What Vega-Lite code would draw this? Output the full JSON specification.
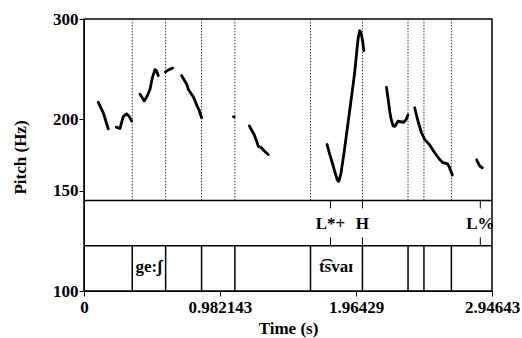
{
  "$schema": "https://vega.github.io/schema/vega-lite/v6.json",
  "width": 408,
  "height": 272,
  "autosize": {"type": "none"},
  "padding": {"left": 84, "top": 19, "right": 30, "bottom": 47},
  "background": "white",
  "config": {
    "font": "Liberation Serif",
    "view": {"stroke": "black", "strokeWidth": 1.5},
    "axis": {
      "grid": false,
      "labelFont": "Liberation Serif",
      "titleFont": "Liberation Serif",
      "labelFontSize": 17,
      "titleFontSize": 17,
      "labelFontWeight": "bold",
      "titleFontWeight": "bold",
      "labelColor": "black",
      "titleColor": "black",
      "tickColor": "black",
      "domainColor": "black",
      "tickSize": 5,
      "labelOverlap": false,
      "labelFlush": false
    }
  },
  "datasets": {
    "pitch": [
      {"s": 1, "t": 0.1032, "f": 214.3},
      {"s": 1, "t": 0.1392, "f": 205.4},
      {"s": 1, "t": 0.1753, "f": 192.5},
      {"s": 2, "t": 0.233, "f": 193.8},
      {"s": 2, "t": 0.2597, "f": 192.8},
      {"s": 2, "t": 0.2835, "f": 202.3},
      {"s": 2, "t": 0.3066, "f": 204.5},
      {"s": 2, "t": 0.3247, "f": 202.7},
      {"s": 2, "t": 0.3442, "f": 198.7},
      {"s": 3, "t": 0.404, "f": 221.5},
      {"s": 3, "t": 0.4351, "f": 215.5},
      {"s": 3, "t": 0.4545, "f": 219.3},
      {"s": 3, "t": 0.4762, "f": 225.6},
      {"s": 3, "t": 0.4942, "f": 236.8},
      {"s": 3, "t": 0.5123, "f": 244.5},
      {"s": 3, "t": 0.5231, "f": 243.5},
      {"s": 3, "t": 0.5361, "f": 238.7},
      {"s": 4, "t": 0.588, "f": 242.3},
      {"s": 4, "t": 0.6133, "f": 244.5},
      {"s": 4, "t": 0.64, "f": 246.2},
      {"s": 5, "t": 0.7049, "f": 238.7},
      {"s": 5, "t": 0.7215, "f": 234.9},
      {"s": 5, "t": 0.741, "f": 230.7},
      {"s": 5, "t": 0.754, "f": 225.6},
      {"s": 5, "t": 0.7684, "f": 222.9},
      {"s": 5, "t": 0.7886, "f": 219.3},
      {"s": 5, "t": 0.8009, "f": 215.8},
      {"s": 5, "t": 0.8153, "f": 211.5},
      {"s": 5, "t": 0.8297, "f": 208.1},
      {"s": 5, "t": 0.8492, "f": 201.3},
      {"s": 6, "t": 1.0795, "f": 202.1},
      {"s": 6, "t": 1.0845, "f": 202.1},
      {"s": 7, "t": 1.1941, "f": 194.8},
      {"s": 7, "t": 1.2121, "f": 191.2},
      {"s": 7, "t": 1.2287, "f": 188.2},
      {"s": 7, "t": 1.2446, "f": 183.7},
      {"s": 7, "t": 1.2576, "f": 179.5},
      {"s": 7, "t": 1.2807, "f": 178.3},
      {"s": 7, "t": 1.2987, "f": 176.4},
      {"s": 7, "t": 1.3297, "f": 173.6},
      {"s": 8, "t": 1.7554, "f": 180.7},
      {"s": 8, "t": 1.7749, "f": 173.6},
      {"s": 8, "t": 1.7965, "f": 166.7},
      {"s": 8, "t": 1.8146, "f": 160.8},
      {"s": 8, "t": 1.829, "f": 156.6},
      {"s": 8, "t": 1.8398, "f": 155.7},
      {"s": 8, "t": 1.8543, "f": 160.1},
      {"s": 8, "t": 1.8687, "f": 168.8},
      {"s": 8, "t": 1.8831, "f": 178.5},
      {"s": 8, "t": 1.8975, "f": 189.7},
      {"s": 8, "t": 1.912, "f": 201.5},
      {"s": 8, "t": 1.9264, "f": 214.1},
      {"s": 8, "t": 1.9408, "f": 227.4},
      {"s": 8, "t": 1.9553, "f": 242.6},
      {"s": 8, "t": 1.9697, "f": 263.0},
      {"s": 8, "t": 1.9805, "f": 278.2},
      {"s": 8, "t": 1.9913, "f": 286.2},
      {"s": 8, "t": 2.0022, "f": 282.7},
      {"s": 8, "t": 2.013, "f": 273.8},
      {"s": 8, "t": 2.0202, "f": 264.0},
      {"s": 9, "t": 2.184, "f": 227.7},
      {"s": 9, "t": 2.197, "f": 216.7},
      {"s": 9, "t": 2.2078, "f": 206.7},
      {"s": 9, "t": 2.2186, "f": 199.9},
      {"s": 9, "t": 2.2331, "f": 194.7},
      {"s": 9, "t": 2.2439, "f": 194.3},
      {"s": 9, "t": 2.2677, "f": 198.5},
      {"s": 9, "t": 2.2872, "f": 198.1},
      {"s": 9, "t": 2.3088, "f": 197.7},
      {"s": 9, "t": 2.3268, "f": 199.9},
      {"s": 9, "t": 2.3398, "f": 203.7},
      {"s": 10, "t": 2.3882, "f": 209.6},
      {"s": 10, "t": 2.412, "f": 198.5},
      {"s": 10, "t": 2.4365, "f": 189.7},
      {"s": 10, "t": 2.4603, "f": 184.4},
      {"s": 10, "t": 2.4964, "f": 180.4},
      {"s": 10, "t": 2.5325, "f": 174.8},
      {"s": 10, "t": 2.5685, "f": 170.1},
      {"s": 10, "t": 2.5924, "f": 167.9},
      {"s": 10, "t": 2.6263, "f": 167.1},
      {"s": 10, "t": 2.6407, "f": 164.4},
      {"s": 10, "t": 2.6602, "f": 159.8},
      {"s": 11, "t": 2.8355, "f": 169.9},
      {"s": 11, "t": 2.8571, "f": 165.7},
      {"s": 11, "t": 2.8766, "f": 164.5}
    ],
    "bounds": [
      {"t": 0.3485}, {"t": 0.5895}, {"t": 0.849}, {"t": 1.0895}, {"t": 1.6357},
      {"t": 2.0108}, {"t": 2.34}, {"t": 2.455}, {"t": 2.653}
    ],
    "hlines": [{"f": 144.2}, {"f": 120}],
    "tones": [
      {"t": 1.78, "label": "L*+"},
      {"t": 2.0108, "label": "H"},
      {"t": 2.862, "label": "L%"}
    ],
    "segs": [
      {"t": 0.469, "label": "ge:ʃ"},
      {"t": 1.82, "label": "t͡svaɪ"}
    ]
  },
  "layer": [
    {
      "data": {"name": "bounds"},
      "mark": {"type": "rule", "color": "#333", "strokeWidth": 1, "strokeDash": [1.5, 1.5]},
      "encoding": {
        "x": {"field": "t", "type": "quantitative", "scale": {"domain": [0, 2.94643], "nice": false, "zero": false},
          "axis": {"values": [0, 0.982143, 1.96429, 2.94643], "format": ".6~g", "title": "Time (s)", "labelPadding": 3, "titleY": 37, "titleBaseline": "middle"}},
        "y": {"datum": 144.2, "type": "quantitative", "scale": {"type": "log", "domain": [100, 300], "nice": false},
          "axis": {"values": [100, 150, 200, 300], "format": "d", "title": "Pitch (Hz)", "labelPadding": 1, "titleX": -64, "titleY": 138, "titleBaseline": "middle"}},
        "y2": {"datum": 300}
      }
    },
    {
      "data": {"name": "bounds"},
      "mark": {"type": "rule", "color": "black", "strokeWidth": 1.5},
      "encoding": {
        "x": {"field": "t", "type": "quantitative"},
        "y": {"datum": 100, "type": "quantitative"},
        "y2": {"datum": 120}
      }
    },
    {
      "data": {"name": "hlines"},
      "mark": {"type": "rule", "color": "black", "strokeWidth": 1.5},
      "encoding": {
        "y": {"field": "f", "type": "quantitative"}
      }
    },
    {
      "data": {"name": "tones"},
      "mark": {"type": "rule", "color": "black", "strokeWidth": 1},
      "encoding": {
        "x": {"field": "t", "type": "quantitative"},
        "y": {"datum": 139.6, "type": "quantitative"},
        "y2": {"datum": 144.2}
      }
    },
    {
      "data": {"name": "tones"},
      "mark": {"type": "rule", "color": "black", "strokeWidth": 1},
      "encoding": {
        "x": {"field": "t", "type": "quantitative"},
        "y": {"datum": 120, "type": "quantitative"},
        "y2": {"datum": 124.2}
      }
    },
    {
      "data": {"name": "tones"},
      "mark": {"type": "text", "font": "Liberation Serif", "fontSize": 17, "fontWeight": "bold", "color": "black", "align": "center", "baseline": "alphabetic"},
      "encoding": {
        "x": {"field": "t", "type": "quantitative"},
        "y": {"datum": 128.3, "type": "quantitative"},
        "text": {"field": "label"}
      }
    },
    {
      "data": {"name": "segs"},
      "mark": {"type": "text", "font": "Liberation Serif", "fontSize": 17, "fontWeight": "bold", "color": "black", "align": "center", "baseline": "alphabetic"},
      "encoding": {
        "x": {"field": "t", "type": "quantitative"},
        "y": {"datum": 107.9, "type": "quantitative"},
        "text": {"field": "label"}
      }
    },
    {
      "data": {"name": "pitch"},
      "mark": {"type": "line", "color": "black", "strokeWidth": 2.8, "strokeCap": "round", "strokeJoin": "round"},
      "encoding": {
        "x": {"field": "t", "type": "quantitative"},
        "y": {"field": "f", "type": "quantitative"},
        "detail": {"field": "s", "type": "nominal"}
      }
    }
  ]
}
